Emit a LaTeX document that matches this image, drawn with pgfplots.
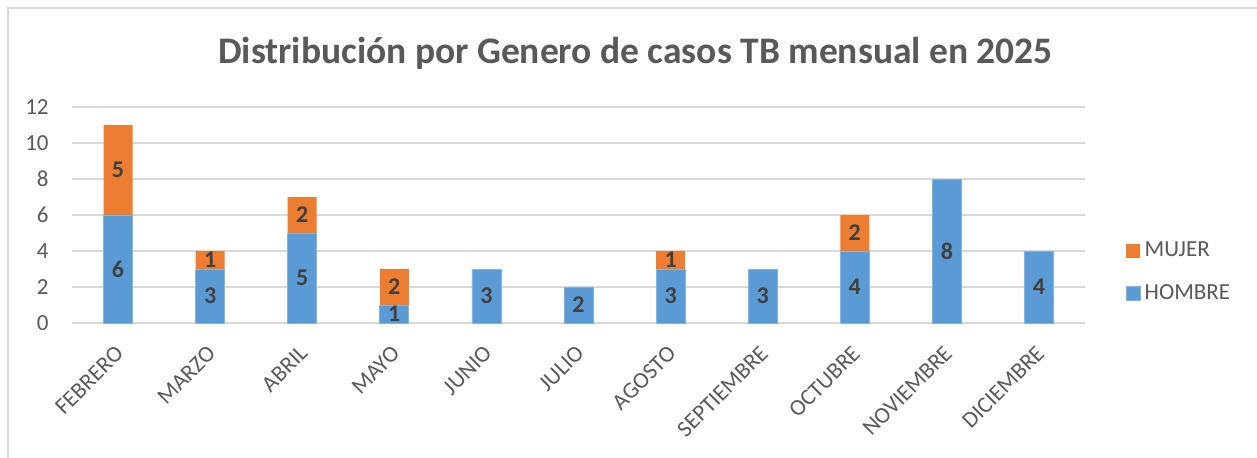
\documentclass[border=0pt]{standalone}
\usepackage{fontspec}
\setmainfont{Carlito}
\usepackage{pgfplots}
\usepackage{pgfplotstable}
\pgfplotsset{compat=1.18}

\definecolor{HombreBlue}{HTML}{5B9BD5}
\definecolor{MujerOrange}{HTML}{ED7D31}
\definecolor{TxtGray}{HTML}{595959}
\definecolor{LblGray}{HTML}{404040}
\definecolor{GridGray}{HTML}{D9D9D9}

% x = month index, value, label text ({} = no label)
\pgfplotstableread{
x v lbl
0 6 6
1 3 3
2 5 5
3 1 1
4 3 3
5 2 2
6 3 3
7 3 3
8 4 4
9 8 8
10 4 4
}\hombre
\pgfplotstableread{
x v lbl
0 5 5
1 1 1
2 2 2
3 2 2
4 0 {}
5 0 {}
6 1 1
7 0 {}
8 2 2
9 0 {}
10 0 {}
}\mujer

\begin{document}
\begin{tikzpicture}
\path[use as bounding box] (-36pt,-67pt) rectangle (592.5pt,161.5pt);
\begin{axis}[
  at={(0,0)}, anchor=south west,
  scale only axis,
  width=506.5pt, height=108pt,
  ybar stacked,
  bar width=14.5pt,
  xmin=-0.5, xmax=10.5,
  ymin=0, ymax=12,
  ytick={0,2,...,12},
  xtick=data,
  xticklabels={FEBRERO,MARZO,ABRIL,MAYO,JUNIO,JULIO,AGOSTO,SEPTIEMBRE,OCTUBRE,NOVIEMBRE,DICIEMBRE},
  axis x line*=bottom,
  axis y line*=left,
  x axis line style={draw=GridGray, line width=0.8pt, -},
  y axis line style={draw=none},
  ymajorgrids=true,
  grid style={GridGray, line width=0.8pt},
  major tick length=0pt,
  tick label style={font=\fontsize{11.5}{13}\selectfont, text=TxtGray},
  /pgf/number format/assume math mode=true,
  yticklabel style={inner sep=0pt, anchor=east, xshift=-11.5pt},
  xticklabel style={yshift=-10.5pt, xshift=-2pt, rotate=45, anchor=north east, inner sep=0pt},
  legend style={at={(1.04,0.236)}, anchor=west, draw=none, fill=none,
    font=\fontsize{11.5}{13}\selectfont, text=TxtGray,
    row sep=8.5pt, inner sep=0pt},
  legend cell align=left,
  reverse legend,
  legend image code/.code={\fill[#1] (0pt,-3.5pt) rectangle (7pt,3.5pt);},
  clip=false,
]
\addplot[fill=HombreBlue, draw=HombreBlue!75!white, line width=0.4pt,
  point meta=explicit symbolic,
  nodes near coords,
  every node near coord/.append style={anchor=center,
    font=\bfseries\fontsize{12}{14}\selectfont, text=LblGray}]
  table[x=x, y=v, meta=lbl] {\hombre};
\addplot[fill=MujerOrange, draw=none,
  point meta=explicit symbolic,
  nodes near coords,
  every node near coord/.append style={anchor=center,
    font=\bfseries\fontsize{12}{14}\selectfont, text=LblGray}]
  table[x=x, y=v, meta=lbl] {\mujer};
\legend{HOMBRE, MUJER}
\end{axis}
\node[font=\bfseries\fontsize{18.75}{22}\selectfont, text=TxtGray] at (281.75pt,135pt)
  {Distribución por Genero de casos TB mensual en 2025};
\draw[GridGray, line width=0.8pt] (-32pt,-70pt) -- (-32pt,157.5pt) -- (600pt,157.5pt);
\end{tikzpicture}
\end{document}
